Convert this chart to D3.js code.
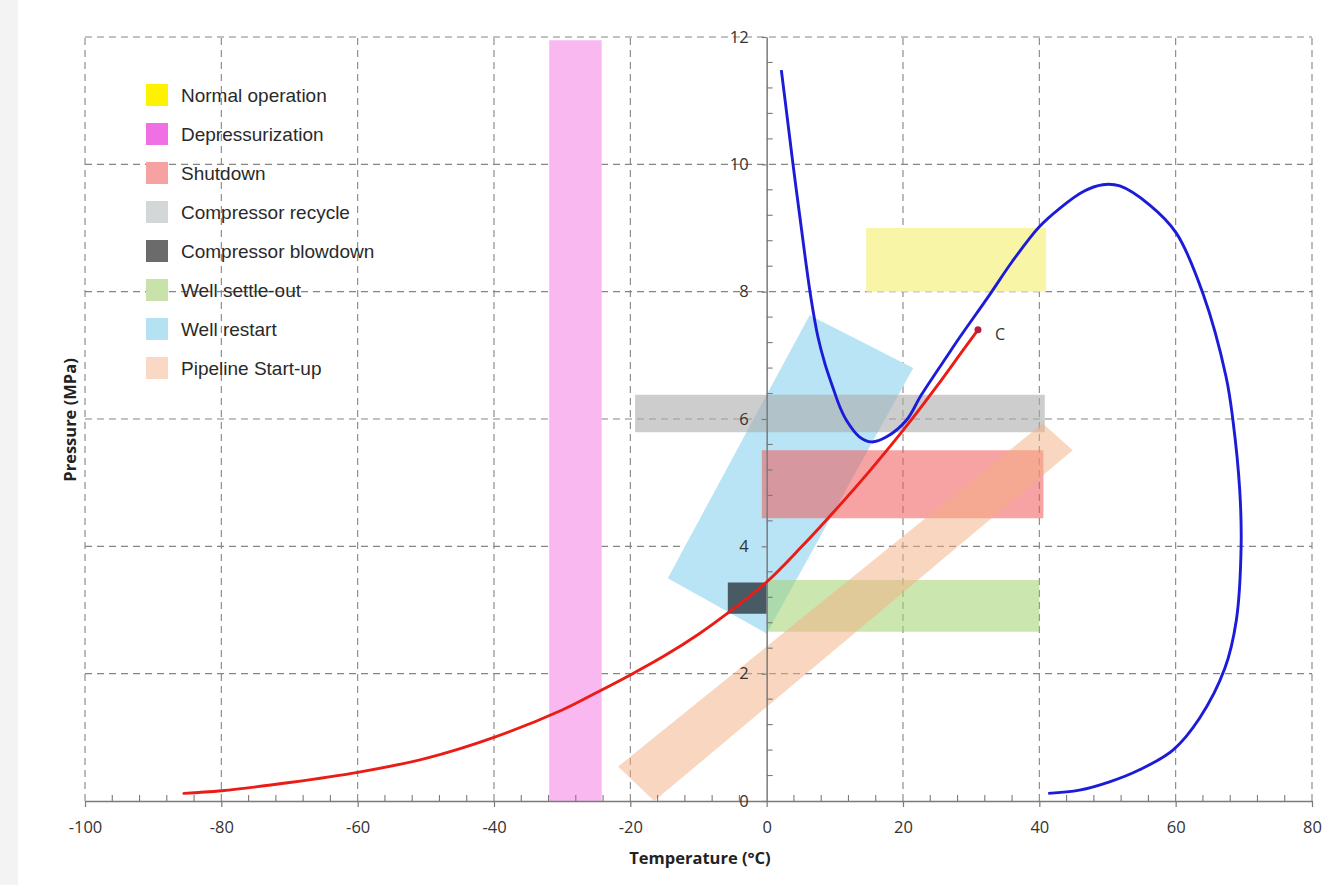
<!DOCTYPE html>
<html>
<head>
<meta charset="utf-8">
<script src="https://cdn.jsdelivr.net/npm/d3@7"></script>
<style>
  html, body { margin: 0; padding: 0; background: #ffffff; }
  svg { display: block; }
</style>
</head>
<body>
<svg id="chart" width="1324" height="885"></svg>
<script>
// ---------------- DATA ----------------
const xTickValues = [-100, -80, -60, -40, -20, 0, 20, 40, 60, 80];
const xTickLabels = ["-100", "-80", "-60", "-40", "-20", "0", "20", "40", "60", "80"];
const yTickValues = [0, 2, 4, 6, 8, 10, 12];
const yTickLabels = ["0", "2", "4", "6", "8", "10", "12"];

const legendLabels = ["Normal operation", "Depressurization", "Shutdown", "Compressor recycle",
  "Compressor blowdown", "Well settle-out", "Well restart", "Pipeline Start-up"];

// operating regions: polygons of [temperature °C, pressure MPa]
const depressurization = [[-31.9, 0], [-24.2, 0], [-24.2, 11.95], [-31.9, 11.95]];
const normalOperation = [[14.6, 8.0], [41.0, 8.0], [41.0, 9.0], [14.6, 9.0]];
const wellRestart = [[0.0, 2.63], [21.5, 6.80], [6.3, 7.63], [-14.5, 3.50]];
const compressorRecycle = [[-19.3, 5.79], [40.8, 5.79], [40.8, 6.38], [-19.3, 6.38]];
const shutdown = [[-0.7, 4.44], [40.6, 4.44], [40.6, 5.51], [-0.7, 5.51]];
const wellSettleOut = [[0.2, 2.66], [40.0, 2.66], [40.0, 3.47], [0.2, 3.47]];
const pipelineStartUp = [[-16.5, 0.0], [44.9, 5.51], [40.5, 5.93], [-21.8, 0.54]];
const compressorBlowdown = [[-5.7, 2.94], [0.0, 2.94], [0.0, 3.43], [-5.7, 3.43]];

// CO2 saturation curve (red) up to the critical point C
const redT = [-85.5, -80, -70, -60, -50, -40, -30, -25, -20, -15, -10, -5, 0, 5, 10, 15, 20, 25, 29, 31];
const redP = [0.12, 0.16, 0.29, 0.45, 0.67, 1.0, 1.43, 1.70, 1.98, 2.28, 2.62, 3.01, 3.44, 3.98, 4.56, 5.17, 5.82, 6.52, 7.11, 7.40];

// Phase envelope (blue)
const blueT = [2.15, 3.0, 3.85, 4.84, 5.7, 6.5, 7.5, 8.6, 9.7, 10.7, 11.7, 13.6, 15.4, 17.6, 20.5, 22.7, 26.8, 28.3, 32.7, 36.0,
  40.0, 43.0, 46.4, 49.3, 51.8, 56.2, 60.1, 64.0, 67.4, 68.4, 69.4, 69.6, 68.9, 67.2, 63.5, 59.6,
  54.7, 50.3, 45.9, 41.3];
const blueP = [11.48, 10.75, 10.01, 9.2, 8.5, 7.9, 7.3, 6.85, 6.5, 6.2, 5.98, 5.72, 5.64, 5.72, 5.98, 6.38, 7.04, 7.28, 7.95, 8.47,
  9.02, 9.31, 9.57, 9.68, 9.66, 9.36, 8.92, 7.97, 6.66, 5.98, 4.88, 3.99, 2.84, 2.08, 1.30, 0.80,
  0.49, 0.30, 0.17, 0.12];

const criticalPoint = [31, 7.40];
const criticalLabel = "C";
const xTitle = "Temperature (°C)";
const yTitle = "Pressure (MPa)";

// ---------------- STYLE ----------------
const regionStyles = [
  { data: depressurization, fill: "#f9b9f0", op: 1 },
  { data: normalOperation, fill: "#f8f6a6", op: 1 },
  { data: wellRestart, fill: "#b8e4f5", op: 1 },
  { data: compressorRecycle, fill: "#ababab", op: 0.6 },
  { data: shutdown, fill: "#f05858", op: 0.55 },
  { data: wellSettleOut, fill: "#a2d26f", op: 0.55 },
  { data: pipelineStartUp, fill: "#f3ad81", op: 0.5 },
  { data: compressorBlowdown, fill: "#3c4a53", op: 0.9 }
];
const legendColors = ["#fff200", "#f070e4", "#f6a2a2", "#d3d7d7", "#6b6b6b", "#c9e2a9", "#b5e2f2", "#f9d8c6"];

// ---------------- CHART ----------------
const svg = d3.select("#chart");
svg.append("rect").attr("x", 0).attr("y", 0).attr("width", 1324).attr("height", 885).attr("fill", "#ffffff");
svg.append("rect").attr("x", 0).attr("y", 0).attr("width", 18).attr("height", 885).attr("fill", "#f3f3f3");

const x = d3.scaleLinear().domain([-100, 80]).range([85, 1312]);
const y = d3.scaleLinear().domain([0, 12]).range([801, 37]);

// grid
const grid = svg.append("g").attr("stroke", "#858585").attr("stroke-width", 1.1)
  .attr("stroke-dasharray", "7,5").attr("fill", "none");
xTickValues.filter(v => v !== 0).forEach(v => {
  grid.append("line").attr("x1", x(v)).attr("x2", x(v)).attr("y1", y(0)).attr("y2", y(12));
});
yTickValues.filter(v => v !== 0).forEach(v => {
  grid.append("line").attr("x1", x(-100)).attr("x2", x(80)).attr("y1", y(v)).attr("y2", y(v));
});

// regions
const poly = d3.line().x(d => x(d[0])).y(d => y(d[1]));
regionStyles.forEach(r => {
  svg.append("path").attr("d", poly(r.data) + "Z").attr("fill", r.fill).attr("fill-opacity", r.op).attr("stroke", "none");
});

// axes
const axisColor = "#7a7a7a";
const fontTick = "'Open Sans', 'DejaVu Sans', sans-serif";
const xAxis = d3.axisBottom(x).tickValues(xTickValues).tickFormat((d, i) => xTickLabels[i])
  .tickSizeInner(6).tickSizeOuter(0).tickPadding(14);
const gx = svg.append("g").attr("transform", `translate(0,${y(0)})`).call(xAxis);
const yAxis = d3.axisLeft(y).tickValues(yTickValues).tickFormat((d, i) => yTickLabels[i])
  .tickSizeInner(5).tickSizeOuter(0).tickPadding(13);
const gy = svg.append("g").attr("transform", `translate(${x(0)},0)`).call(yAxis);
[gx, gy].forEach(g => {
  g.select(".domain").attr("stroke", axisColor).attr("stroke-width", 1.5);
  g.selectAll(".tick line").attr("stroke", axisColor).attr("stroke-width", 1.2);
  g.selectAll(".tick text").attr("fill", "#333").attr("font-size", 16.5).attr("font-family", fontTick);
});
// minor ticks
const minorX = d3.range(-100, 80.1, 4).filter(v => v % 20 !== 0);
svg.append("g").selectAll("line").data(minorX).join("line")
  .attr("x1", d => x(d)).attr("x2", d => x(d)).attr("y1", y(0)).attr("y2", y(0) - 6)
  .attr("stroke", axisColor).attr("stroke-width", 1.1);
const minorY = d3.range(0, 12.01, 0.4).filter(v => Math.abs(v / 2 - Math.round(v / 2)) > 1e-6);
svg.append("g").selectAll("line").data(minorY).join("line")
  .attr("x1", x(0)).attr("x2", x(0) + 6).attr("y1", d => y(d)).attr("y2", d => y(d))
  .attr("stroke", axisColor).attr("stroke-width", 1.1);

// curves
const curveLine = d3.line().x(d => x(d[0])).y(d => y(d[1])).curve(d3.curveCatmullRom.alpha(0.5));
svg.append("path").attr("d", curveLine(blueT.map((t, i) => [t, blueP[i]])))
  .attr("fill", "none").attr("stroke", "#1c1cd8").attr("stroke-width", 2.9).attr("stroke-linejoin", "round");
svg.append("path").attr("d", curveLine(redT.map((t, i) => [t, redP[i]])))
  .attr("fill", "none").attr("stroke", "#ea1c16").attr("stroke-width", 2.9).attr("stroke-linecap", "round");
svg.append("circle").attr("cx", x(criticalPoint[0])).attr("cy", y(criticalPoint[1])).attr("r", 3.5).attr("fill", "#b4203c");
svg.append("text").attr("x", x(criticalPoint[0]) + 17).attr("y", y(criticalPoint[1]) + 10)
  .attr("font-family", fontTick).attr("font-size", 16).attr("fill", "#333").text(criticalLabel);

// axis titles
svg.append("text").attr("x", 700).attr("y", 864).attr("text-anchor", "middle")
  .attr("font-family", fontTick).attr("font-weight", "bold").attr("font-size", 16.5).attr("fill", "#222").text(xTitle);
svg.append("text").attr("transform", "translate(76,420) rotate(-90)").attr("text-anchor", "middle")
  .attr("font-family", fontTick).attr("font-weight", "bold").attr("font-size", 16.5).attr("fill", "#222").text(yTitle);

// legend
const leg = svg.append("g");
legendLabels.forEach((lab, i) => {
  const cy = 95 + i * 39;
  leg.append("rect").attr("x", 146).attr("y", cy - 11).attr("width", 22).attr("height", 22).attr("fill", legendColors[i]);
  leg.append("text").attr("x", 181).attr("y", cy + 6.5).attr("font-family", "'Liberation Sans', Arial, sans-serif")
    .attr("font-size", 19).attr("fill", "#2a2a2a").text(lab);
});
</script>
</body>
</html>
